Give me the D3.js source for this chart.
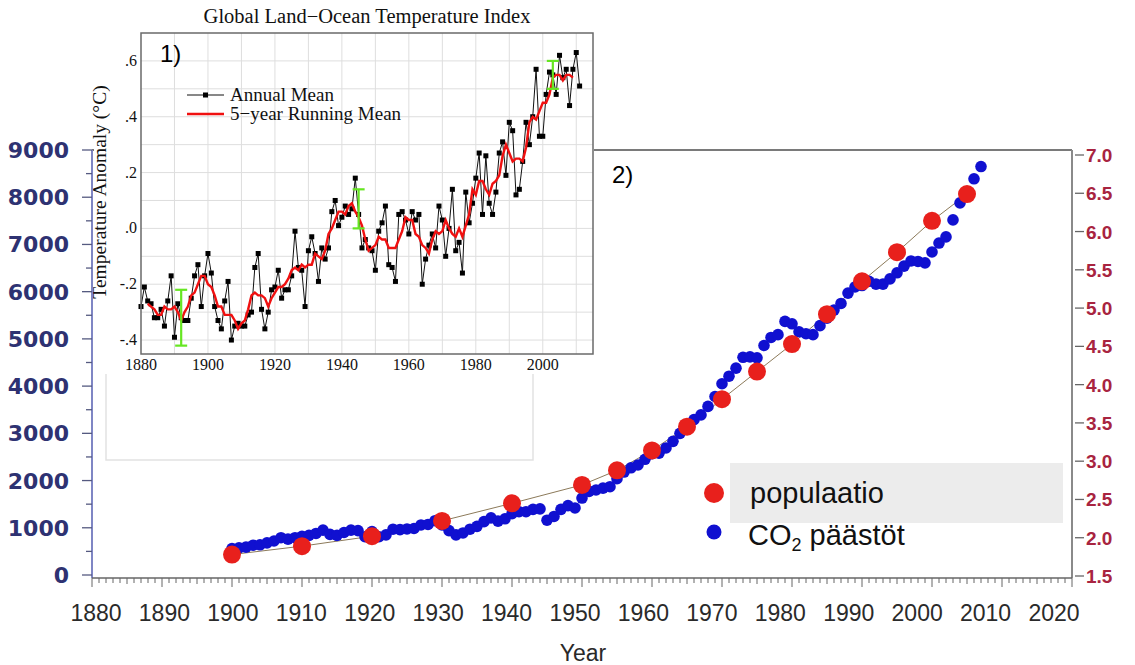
<!DOCTYPE html>
<html><head><meta charset="utf-8">
<script src="https://cdn.jsdelivr.net/npm/d3@7"></script>
<style>body{margin:0;background:#fff;} svg{display:block;}</style>
</head><body>
<svg id="c" width="1135" height="665"></svg>
<script>
// ---------- main chart data ----------
const popYears  = [1900,1910,1920,1930,1940,1950,1955,1960,1965,1970,1975,1980,1985,1990,1995,2000,2005];
const popValues = [1.78,1.89,2.02,2.22,2.45,2.69,2.88,3.14,3.45,3.81,4.17,4.53,4.92,5.35,5.73,6.14,6.49];
const co2Start = 1900;
const co2Values = [
 560,575,590,630,640,680,720,790,760,790,
 820,840,880,950,860,840,900,950,940,810,
 920,810,850,970,960,975,985,1060,1070,1150,
 1060,940,850,890,970,1030,1130,1210,1140,1190,
 1300,1340,1340,1390,1400,1160,1240,1390,1470,1420,
 1630,1770,1800,1840,1870,2040,2180,2270,2330,2450,
 2570,2580,2690,2830,3000,3130,3290,3390,3570,3780,
 4050,4210,4380,4610,4620,4600,4860,5030,5090,5370,
 5320,5150,5110,5090,5280,5440,5610,5750,5970,6100,
 6130,6220,6160,6160,6270,6400,6540,6650,6640,6610,
 6840,7030,7160,7520,7880,8100,8390,8650];
const xTickYears = [1880,1890,1900,1910,1920,1930,1940,1950,1960,1970,1980,1990,2000,2010,2020];
const leftTicks  = [0,1000,2000,3000,4000,5000,6000,7000,8000,9000];
const rightTicks = [1.5,2.0,2.5,3.0,3.5,4.0,4.5,5.0,5.5,6.0,6.5,7.0];
const legendLabels = ["populaatio","CO\u2082 päästöt"];

// ---------- inset data (GISS) ----------
const tempStart = 1880;
const tempAnnual = [
 -.28,-.21,-.26,-.27,-.32,-.32,-.29,-.35,-.26,-.17,
 -.39,-.27,-.32,-.33,-.33,-.25,-.17,-.13,-.28,-.17,
 -.09,-.16,-.28,-.33,-.36,-.26,-.19,-.40,-.35,-.34,
 -.35,-.35,-.31,-.30,-.14,-.09,-.29,-.36,-.30,-.22,
 -.21,-.15,-.25,-.22,-.22,-.17,-.01,-.14,-.15,-.28,
 -.08,-.03,-.09,-.19,-.07,-.11,-.07,.06,.10,.01,
 .04,.08,.05,.07,.18,.05,-.07,-.04,-.07,-.08,
 -.15,-.01,.02,.08,-.13,-.14,-.19,.05,.06,.03,
 -.02,.06,.03,.05,-.20,-.11,-.06,-.02,-.07,.08,
 .03,-.10,.00,.14,-.08,-.05,-.16,.13,.02,.09,
 .18,.27,.05,.26,.09,.05,.13,.27,.31,.19,
 .38,.35,.12,.14,.24,.38,.30,.40,.57,.33,
 .33,.48,.56,.55,.48,.62,.54,.57,.44,.57,
 .63,.51];
const runStart = 1882;
const tempRunning = [
 -.27,-.28,-.29,-.31,-.31,-.28,-.29,-.29,
 -.28,-.30,-.33,-.30,-.28,-.24,-.23,-.20,-.17,-.17,
 -.20,-.21,-.24,-.28,-.28,-.31,-.31,-.31,-.33,-.36,
 -.34,-.33,-.29,-.24,-.23,-.24,-.24,-.25,-.28,-.25,
 -.23,-.21,-.21,-.20,-.18,-.15,-.14,-.15,-.13,-.14,
 -.13,-.13,-.09,-.10,-.11,-.08,-.02,.00,.03,.06,
 .06,.05,.08,.09,.06,.04,.01,-.04,-.08,-.07,
 -.06,-.03,-.04,-.04,-.07,-.07,-.07,-.04,-.01,.04,
 .03,.03,-.02,-.03,-.06,-.07,-.09,-.04,-.01,-.02,
 -.01,.03,.00,-.02,-.03,.00,-.03,.01,.05,.14,
 .12,.17,.17,.14,.12,.16,.17,.19,.26,.30,
 .27,.24,.25,.25,.24,.29,.38,.40,.39,.42,
 .45,.45,.48,.54,.55,.55,.53,.55,.55,.54];
const errYears = [1892,1945,2003];
const errLow   = [-0.42,0.00,0.50];
const errHigh  = [-0.22,0.14,0.60];
const insetXTicks = [1880,1900,1920,1940,1960,1980,2000];
const insetYTicks = [-0.4,-0.2,0,0.2,0.4,0.6];
const insetYLabels = ["-.4","-.2",".0",".2",".4",".6"];
const insetLegend = ["Annual Mean","5\u2212year Running Mean"];

// ---------- drawing ----------
const svg = d3.select("#c");
const SANS = "'Liberation Sans', Arial, sans-serif";
const SERIF = "'Liberation Serif', 'Times New Roman', serif";

const x    = d3.scaleLinear().domain([1880,2020]).range([92,1072]);
const xLab = d3.scaleLinear().domain([1880,2020]).range([96,1054]);
const yL   = d3.scaleLinear().domain([0,9000]).range([575,150]);
const yR   = d3.scaleLinear().domain([1.5,7.0]).range([576,155]);

// frame
svg.append("line").attr("x1",92).attr("x2",1072).attr("y1",150).attr("y2",150)
   .attr("stroke","#7a7a7a").attr("stroke-width",2);
svg.append("line").attr("x1",1072).attr("x2",1072).attr("y1",150).attr("y2",578)
   .attr("stroke","#8a8a8a").attr("stroke-width",2);

// faint box behind the inset
svg.append("rect").attr("x",106).attr("y",250).attr("width",427).attr("height",210)
   .attr("fill","#fff").attr("stroke","#e2e2e2").attr("stroke-width",1.5);

// population thin line
svg.append("path").datum(popYears.map((d,i)=>[d,popValues[i]]))
   .attr("fill","none").attr("stroke","#8c7a5a").attr("stroke-width",1)
   .attr("d", d3.line().x(d=>x(d[0])).y(d=>yR(d[1])));

// CO2 dots
svg.append("g").selectAll("circle").data(co2Values).join("circle")
   .attr("cx",(d,i)=>x(co2Start+i)).attr("cy",d=>yL(d)).attr("r",5.8)
   .attr("fill","#1010d0");

// population dots
svg.append("g").selectAll("circle").data(popValues).join("circle")
   .attr("cx",(d,i)=>x(popYears[i])).attr("cy",d=>yR(d)).attr("r",9)
   .attr("fill","#e8201c");

// ---------- inset ----------
const ins = svg.append("g");
ins.append("rect").attr("x",94).attr("y",0).attr("width",500).attr("height",374).attr("fill","#fff");
const xi = d3.scaleLinear().domain([1880,2015]).range([141,593]);
const yi = d3.scaleLinear().domain([-0.45,0.70]).range([354,33]);

// grid
ins.append("g").selectAll("line").data(d3.range(1890,2015,10)).join("line")
   .attr("x1",d=>xi(d)).attr("x2",d=>xi(d)).attr("y1",33).attr("y2",354)
   .attr("stroke","#dedede").attr("stroke-width",1);
ins.append("g").selectAll("line").data([-0.4,-0.3,-0.2,-0.1,0,0.1,0.2,0.3,0.4,0.5,0.6]).join("line")
   .attr("x1",141).attr("x2",593).attr("y1",d=>yi(d)).attr("y2",d=>yi(d))
   .attr("stroke","#dedede").attr("stroke-width",1);

// annual mean
const annual = tempAnnual.map((v,i)=>[tempStart+i,v]);
ins.append("path").datum(annual).attr("fill","none").attr("stroke","#111").attr("stroke-width",1)
   .attr("d", d3.line().x(d=>xi(d[0])).y(d=>yi(d[1])));
ins.append("g").selectAll("rect").data(annual).join("rect")
   .attr("x",d=>xi(d[0])-2.5).attr("y",d=>yi(d[1])-2.5).attr("width",5).attr("height",5).attr("fill","#000");

// running mean
const running = tempRunning.map((v,i)=>[runStart+i,v]);
ins.append("path").datum(running).attr("fill","none").attr("stroke","#f01010").attr("stroke-width",2.4)
   .attr("d", d3.line().x(d=>xi(d[0])).y(d=>yi(d[1])));

// error bars
const eb = ins.append("g").attr("stroke","#66e622").attr("stroke-width",2.2);
errYears.forEach((yr,i)=>{
  const cx = xi(yr);
  eb.append("line").attr("x1",cx).attr("x2",cx).attr("y1",yi(errLow[i])).attr("y2",yi(errHigh[i]));
  eb.append("line").attr("x1",cx-6).attr("x2",cx+6).attr("y1",yi(errLow[i])).attr("y2",yi(errLow[i]));
  eb.append("line").attr("x1",cx-6).attr("x2",cx+6).attr("y1",yi(errHigh[i])).attr("y2",yi(errHigh[i]));
});

// border
ins.append("rect").attr("x",141).attr("y",33).attr("width",452).attr("height",321)
   .attr("fill","none").attr("stroke","#6a6a6a").attr("stroke-width",1.5);

// tick labels
ins.append("g").selectAll("text").data(insetXTicks).join("text")
   .attr("x",d=>xi(d)).attr("y",370).attr("text-anchor","middle")
   .attr("font-family",SERIF).attr("font-size",16).attr("fill","#111").text(d=>d);
ins.append("g").selectAll("text").data(insetYTicks).join("text")
   .attr("x",137).attr("y",d=>yi(d)+5).attr("text-anchor","end")
   .attr("font-family",SERIF).attr("font-size",16).attr("fill","#111").text((d,i)=>insetYLabels[i]);

// title & axis label
ins.append("text").attr("x",367).attr("y",23).attr("text-anchor","middle")
   .attr("font-family",SERIF).attr("font-size",20.5).attr("fill","#111")
   .text("Global Land\u2212Ocean Temperature Index");
ins.append("text").attr("transform","translate(106,192) rotate(-90)").attr("text-anchor","middle")
   .attr("font-family",SERIF).attr("font-size",19.5).attr("fill","#111")
   .text("Temperature Anomaly (\u00B0C)");
ins.append("text").attr("x",160).attr("y",62).attr("font-family",SANS).attr("font-size",24)
   .attr("fill","#000").text("1)");

// inset legend
ins.append("line").attr("x1",187).attr("x2",224).attr("y1",95).attr("y2",95).attr("stroke","#111").attr("stroke-width",1);
ins.append("rect").attr("x",203).attr("y",92.5).attr("width",5).attr("height",5).attr("fill","#000");
ins.append("line").attr("x1",187).attr("x2",224).attr("y1",114).attr("y2",114).attr("stroke","#f01010").attr("stroke-width",2.4);
ins.append("g").selectAll("text").data(insetLegend).join("text")
   .attr("x",230).attr("y",(d,i)=>101+i*19).attr("font-family",SERIF).attr("font-size",19)
   .attr("fill","#111").text(d=>d);

// ---------- main axes ----------
// left axis
const gL = svg.append("g").attr("transform","translate(92,0)");
gL.append("line").attr("x1",0).attr("x2",0).attr("y1",150).attr("y2",578)
  .attr("stroke","#7f86c4").attr("stroke-width",2);
gL.append("g").selectAll("line").data(d3.range(0,9001,500)).join("line")
  .attr("x1",d=>d%1000===0?-10:-6).attr("x2",0).attr("y1",d=>yL(d)).attr("y2",d=>yL(d))
  .attr("stroke","#555a80").attr("stroke-width",1.3);
gL.append("g").selectAll("text").data(leftTicks).join("text")
  .attr("x",-23).attr("y",d=>yL(d)+8).attr("text-anchor","end")
  .attr("font-family","'DejaVu Sans', Verdana, sans-serif").attr("font-weight","bold")
  .attr("font-size",22).attr("fill","#2e3272").text(d=>d);

// right axis
const gR = svg.append("g");
gR.selectAll("line").data(rightTicks).join("line")
  .attr("x1",1075).attr("x2",1084).attr("y1",d=>yR(d)).attr("y2",d=>yR(d))
  .attr("stroke","#666").attr("stroke-width",1.3);
gR.selectAll("text").data(rightTicks).join("text")
  .attr("x",1086).attr("y",d=>yR(d)+7).attr("font-family",SANS).attr("font-weight","bold")
  .attr("font-size",19).attr("fill","#a82440").text(d=>d.toFixed(1));

// bottom axis
const gB = svg.append("g");
gB.append("line").attr("x1",92).attr("x2",1072).attr("y1",578).attr("y2",578)
  .attr("stroke","#666").attr("stroke-width",1.5);
gB.append("g").selectAll("line").data(d3.range(1880,2021,1)).join("line")
  .attr("x1",d=>x(d)).attr("x2",d=>x(d)).attr("y1",578)
  .attr("y2",d=>d%10===0?587:(d%5===0?584:583))
  .attr("stroke","#666").attr("stroke-width",1);
gB.append("g").selectAll("text").data(xTickYears).join("text")
  .attr("x",d=>xLab(d)).attr("y",621).attr("text-anchor","middle")
  .attr("font-family",SANS).attr("font-size",23).attr("fill","#2a2a2a").text(d=>d);
svg.append("text").attr("x",583).attr("y",661).attr("text-anchor","middle")
  .attr("font-family",SANS).attr("font-size",23).attr("fill","#2a2a2a").text("Year");

// ---------- legend ----------
svg.append("rect").attr("x",730).attr("y",463).attr("width",333).attr("height",60).attr("fill","#ececec");
const legColors = ["#e8201c","#1010d0"];
const legR = [10,7.5];
const legG = svg.append("g");
legG.selectAll("circle").data(legendLabels).join("circle")
  .attr("cx",714).attr("cy",(d,i)=>493+i*39).attr("r",(d,i)=>legR[i]).attr("fill",(d,i)=>legColors[i]);
legG.append("text").attr("x",750).attr("y",503).attr("font-family",SANS).attr("font-size",29)
  .attr("fill","#111").text(legendLabels[0]);
const t2 = legG.append("text").attr("x",748).attr("y",545).attr("font-family",SANS).attr("font-size",29).attr("fill","#111");
t2.append("tspan").text("CO");
t2.append("tspan").attr("font-size",18).attr("dy",6).text("2");
t2.append("tspan").attr("dy",-6).text(" päästöt");

// "2)"
svg.append("text").attr("x",612).attr("y",183).attr("font-family",SANS).attr("font-size",24)
  .attr("fill","#000").text("2)");
</script>
</body></html>
